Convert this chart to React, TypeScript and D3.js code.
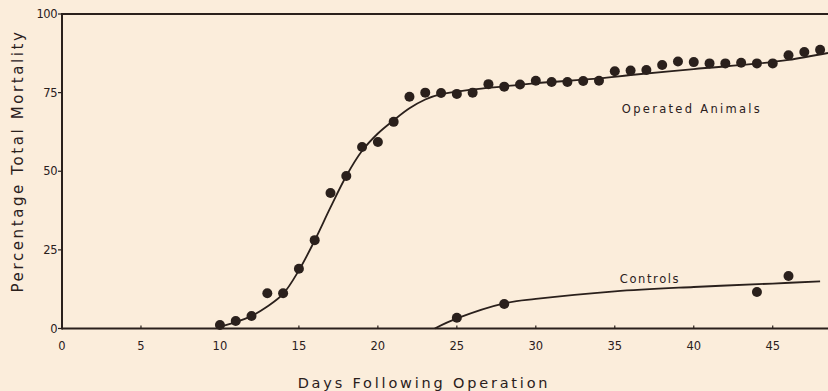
import React from "react";
import * as d3 from "d3";

const width = 828;
const height = 391;
const ink = "#2a201c";
const paper = "#fbeddb";
const font = "'DejaVu Sans', Verdana, sans-serif";

// observed points, operated animals
const operatedDays = [10, 11, 12, 13, 14, 15, 16, 17, 18, 19, 20, 21, 22, 23, 24, 25, 26, 27, 28, 29, 30, 31, 32, 33, 34, 35, 36, 37, 38, 39, 40, 41, 42, 43, 44, 45, 46, 47, 48];
const operatedPct = [1.1, 2.4, 4.0, 11.2, 11.2, 19.0, 28.1, 43.1, 48.5, 57.7, 59.3, 65.7, 73.7, 75.0, 74.9, 74.6, 75.0, 77.7, 76.9, 77.6, 78.8, 78.4, 78.4, 78.7, 78.8, 81.8, 82.0, 82.2, 83.8, 84.9, 84.7, 84.3, 84.3, 84.5, 84.3, 84.3, 86.9, 87.9, 88.6];

// observed points, controls
const controlDays = [25, 28, 44, 46];
const controlPct = [3.4, 7.8, 11.6, 16.7];

// fitted curves
const operatedCurveDays = [10, 11, 12, 13, 14, 15, 16, 17, 18, 19, 20, 21, 22, 23, 24, 26, 28, 30, 34, 36, 40, 44, 46, 48.5];
const operatedCurvePct = [0.5, 2, 4, 7, 11, 18.5, 28, 38.5, 48.5, 56.5, 62, 66.2, 70, 72.8, 74.5, 76, 77, 78, 79.5, 80.6, 82.5, 84.2, 85.4, 87.6];
const controlCurveDays = [23.6, 25, 28, 30, 35, 40, 45, 48];
const controlCurvePct = [0, 3.2, 8.0, 9.4, 11.8, 13.2, 14.3, 15.0];

const xTicks = [0, 5, 10, 15, 20, 25, 30, 35, 40, 45];
const yTicks = [0, 25, 50, 75, 100];

const x = d3.scaleLinear().domain([0, 48.5]).range([62, 828]);
const y = d3.scaleLinear().domain([0, 100]).range([328.5, 14]);

const line = d3
  .line<[number, number]>()
  .x((d) => x(d[0]))
  .y((d) => y(d[1]))
  .curve(d3.curveCatmullRom.alpha(0.5));

export default function App() {
  const opCurve = operatedCurveDays.map((d, i) => [d, operatedCurvePct[i]] as [number, number]);
  const ctCurve = controlCurveDays.map((d, i) => [d, controlCurvePct[i]] as [number, number]);
  return (
    <svg width={width} height={height} style={{ position: "absolute", left: 0, top: 0 }}>
      <rect width={width} height={height} fill={paper} />

      {/* axes */}
      <line x1={x(0)} x2={width} y1={y(0)} y2={y(0)} stroke={ink} strokeWidth={2} />
      <line x1={x(0)} x2={width} y1={y(100)} y2={y(100)} stroke={ink} strokeWidth={2} />
      <line x1={x(0)} x2={x(0)} y1={y(100) - 1} y2={y(0) + 1} stroke={ink} strokeWidth={2} />

      {xTicks.map((t) => (
        <g key={"x" + t}>
          {t > 0 && <line x1={x(t)} x2={x(t)} y1={y(0)} y2={y(0) - 3} stroke={ink} strokeWidth={1.2} />}
          <text x={x(t)} y={350} textAnchor="middle" fontSize={11.5} fontFamily={font} fill={ink}>
            {t}
          </text>
        </g>
      ))}
      {yTicks.map((t) => (
        <g key={"y" + t}>
          <line x1={x(0) - 4} x2={x(0)} y1={y(t)} y2={y(t)} stroke={ink} strokeWidth={1.2} />
          <text x={x(0) - 5} y={y(t) + 4} textAnchor="end" fontSize={11.5} fontFamily={font} fill={ink} letterSpacing={-0.5}>
            {t}
          </text>
        </g>
      ))}

      {/* curves */}
      <path d={line(opCurve) ?? ""} fill="none" stroke={ink} strokeWidth={1.8} />
      <path d={line(ctCurve) ?? ""} fill="none" stroke={ink} strokeWidth={1.8} />

      {/* points */}
      {operatedDays.map((d, i) => (
        <circle key={"o" + d} cx={x(d)} cy={y(operatedPct[i])} r={5} fill={ink} />
      ))}
      {controlDays.map((d, i) => (
        <circle key={"c" + d} cx={x(d)} cy={y(controlPct[i])} r={5} fill={ink} />
      ))}

      {/* labels */}
      <text x={692} y={113} textAnchor="middle" fontSize={11.5} fontFamily={font} fill={ink} letterSpacing={2.3}>
        Operated  Animals
      </text>
      <text x={650} y={283} textAnchor="middle" fontSize={11.5} fontFamily={font} fill={ink} letterSpacing={1.6}>
        Controls
      </text>
      <text x={424} y={388} textAnchor="middle" fontSize={14.5} fontFamily={font} fill={ink} letterSpacing={2.8}>
        Days  Following  Operation
      </text>
      <text
        transform={`translate(23,161) rotate(-90)`}
        textAnchor="middle"
        fontSize={15}
        fontFamily={font}
        fill={ink}
        letterSpacing={2.6}
      >
        Percentage  Total  Mortality
      </text>
    </svg>
  );
}
